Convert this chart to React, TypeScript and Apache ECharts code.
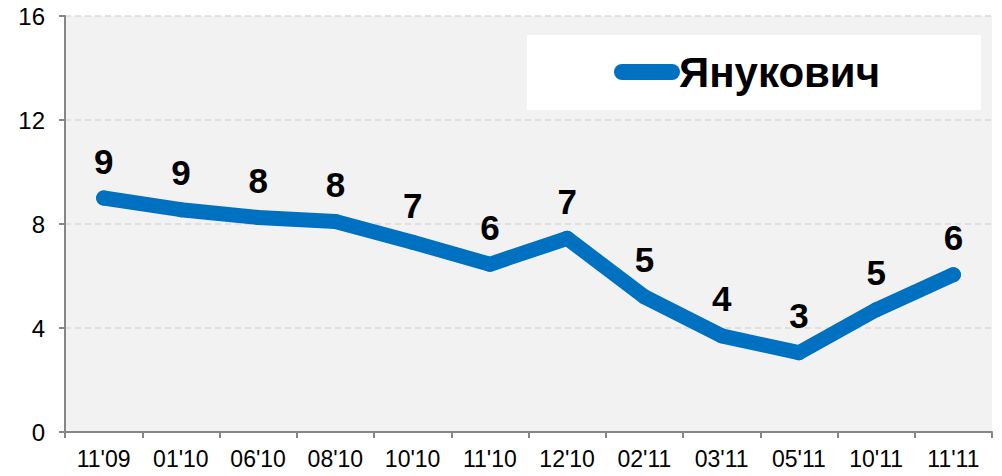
import React, { useEffect, useRef } from "react";
import * as echarts from "echarts";

const categories = ["11'09", "01'10", "06'10", "08'10", "10'10", "11'10", "12'10", "02'11", "03'11", "05'11", "10'11", "11'11"];
const values = [9.0, 8.55, 8.25, 8.1, 7.3, 6.45, 7.45, 5.2, 3.7, 3.05, 4.7, 6.05];
const seriesName = "Янукович";
const yTicks = { min: 0, max: 16, interval: 4 };

const FONT = "'Liberation Sans', Arial, sans-serif";
const BLUE = "#0070C0";

export default function App() {
  const ref = useRef<HTMLDivElement>(null);
  useEffect(() => {
    if (!ref.current) return;
    const chart = echarts.init(ref.current, undefined, { renderer: "svg" });
    chart.setOption({
      animation: false,
      grid: {
        left: 65,
        right: 10,
        top: 16,
        bottom: 44,
        show: true,
        backgroundColor: "#f2f2f2",
        borderWidth: 0,
      },
      graphic: [
        {
          type: "rect",
          z: 1,
          shape: { x: 527, y: 35, width: 454, height: 75 },
          style: { fill: "#ffffff" },
        },
      ],
      legend: {
        data: [seriesName],
        left: 614,
        top: 51,
        padding: 0,
        itemWidth: 66,
        itemHeight: 16,
        z: 5,
        icon: "path://M8,0 L58,0 A8,8 0 0 1 58,16 L8,16 A8,8 0 0 1 8,0 Z",
        itemStyle: { color: BLUE },
        textStyle: {
          fontFamily: FONT,
          fontWeight: "bold",
          fontSize: 42,
          color: "#000",
          padding: [0, 0, 0, -6],
        },
      },
      xAxis: {
        type: "category",
        data: categories,
        boundaryGap: true,
        axisLine: { lineStyle: { color: "#868686", width: 2 } },
        axisTick: { show: true, length: 6, lineStyle: { color: "#868686", width: 2 } },
        axisLabel: {
          fontFamily: FONT,
          fontSize: 23,
          color: "#000",
          margin: 15,
          interval: 0,
        },
        splitLine: { show: false },
      },
      yAxis: {
        type: "value",
        min: yTicks.min,
        max: yTicks.max,
        interval: yTicks.interval,
        axisLine: { show: true, lineStyle: { color: "#868686", width: 2 } },
        axisTick: { show: true, length: 6, lineStyle: { color: "#868686", width: 2 } },
        axisLabel: {
          fontFamily: FONT,
          fontSize: 24,
          color: "#000",
          margin: 20,
        },
        splitLine: {
          show: true,
          lineStyle: { color: "#d9d9d9", type: [6, 4], width: 1.5 },
        },
      },
      series: [
        {
          name: seriesName,
          type: "line",
          data: values,
          symbol: "circle",
          symbolSize: 15,
          itemStyle: { color: BLUE },
          lineStyle: { color: BLUE, width: 15, join: "round", cap: "round" },
          label: {
            show: true,
            position: "top",
            distance: 12,
            fontFamily: FONT,
            fontWeight: "bold",
            fontSize: 35,
            color: "#000",
            formatter: (p: any) => String(Math.round(p.value)),
          },
        },
      ],
    });
    return () => chart.dispose();
  }, []);
  return <div ref={ref} style={{ width: 1002, height: 476, margin: -8 }} />;
}
